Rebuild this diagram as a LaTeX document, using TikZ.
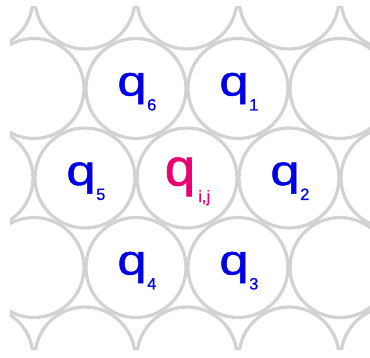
\documentclass[tikz,border=0pt]{standalone}
\usepackage{fontspec}
\setmainfont{Liberation Sans}
\newfontfamily\qfont[FakeStretch=1.25,FakeBold=1.2]{Liberation Sans}
\newfontfamily\qbigfont[FakeStretch=1.05,FakeBold=1.2]{Liberation Sans}
\newfontfamily\idxfont[FakeBold=0.5]{Liberation Sans}
\usetikzlibrary{calc}

\definecolor{ringgray}{RGB}{210,210,210}
\definecolor{qblue}{RGB}{0,0,230}
\definecolor{qpink}{RGB}{235,0,115}

\tikzset{
  ring/.style={circle, draw=ringgray, line width=3.2pt, minimum size=100pt, inner sep=0pt},
  qletter/.style={anchor=base, inner sep=0pt, text=qblue, font=\qfont\fontsize{42}{42}\selectfont},
  qindex/.style={anchor=base west, inner sep=0pt, text=qblue, font=\idxfont\fontsize{16.5}{16.5}\selectfont},
}

\begin{document}
\begin{tikzpicture}[x=1pt, y=-1pt]
  \useasboundingbox (0,0) rectangle (370,358);

  % packed rings, cut to the frame
  \begin{scope}
    \clip (10,7) rectangle (370,350);
    \foreach \r in {0,2,4}
      \foreach \k in {0,...,4}
        \node[ring] (c-\r-\k) at ({-17+102*\k},{-1+89.5*\r}) {};
    \foreach \r in {1,3}
      \foreach \k in {0,...,3}
        \node[ring] (c-\r-\k) at ({34+102*\k},{-1+89.5*\r}) {};
  \end{scope}

  % neighbours
  \foreach \c/\i in {c-1-1/6, c-1-2/1, c-2-1/5, c-2-3/2, c-3-1/4, c-3-2/3} {
    \node[qletter] (q\i) at ($(\c.center)+(-4,7)$) {q};
    \node[qindex] (s\i) at ($(\c.center)+(11,22)$) {\i};
  }

  % centre cell
  \node[qletter, text=qpink, font=\qbigfont\fontsize{52}{52}\selectfont] (qij) at ($(c-2-2.center)+(-7,7.5)$) {q};
  \node[qindex, text=qpink] (sij) at ($(c-2-2.center)+(11,24)$) {i,j};
\end{tikzpicture}
\end{document}
